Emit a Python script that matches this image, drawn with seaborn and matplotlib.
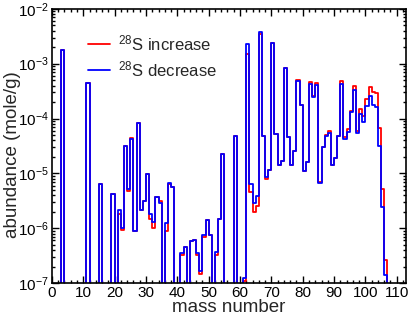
import numpy as np
import pandas as pd
import matplotlib
matplotlib.use("Agg")
import matplotlib.pyplot as plt
from matplotlib.ticker import MultipleLocator, LogLocator, NullFormatter
import seaborn as sns

# mass numbers that show up above the plot floor; anything else is zero
mass_number = [4, 12, 16, 20, 22, 23, 24, 25, 26, 27, 28, 29, 30, 31, 32, 33, 34, 35,
               37, 38, 39, 42, 43, 45, 46, 47, 48, 49, 50, 51, 53, 54, 55, 59, 62, 63,
               64, 65, 66, 67, 68, 69, 70, 71, 72, 73, 74, 75, 76, 77, 78, 79, 80, 81,
               82, 83, 84, 85, 86, 87, 88, 89, 90, 91, 92, 93, 94, 95, 96, 97, 98, 99,
               100, 101, 102, 103, 104, 105, 106, 107]

abund_decrease = [1.8e-3, 4.5e-4, 6.5e-6, 4.2e-6, 2.2e-6, 1.0e-6, 3.1e-5, 5.1e-6, 4.3e-5,
                  8.9e-7, 8.3e-5, 2.2e-6, 3.1e-6, 9.8e-6, 1.8e-6, 1.3e-6, 3.7e-6, 2.9e-6,
                  1.26e-6, 6.8e-6, 5.6e-6, 3.5e-7, 4.6e-7, 5.9e-7, 6.2e-7, 3.5e-7, 1.7e-7,
                  7.6e-7, 1.4e-6, 7.6e-7, 3.7e-7, 1.5e-6, 2.3e-5, 4.9e-5, 1.26e-7, 2.25e-3,
                  6.3e-6, 2.9e-6, 3.9e-6, 3.8e-3, 4.9e-5, 8.7e-6, 1.15e-5, 2.4e-3, 5.3e-5,
                  1.4e-5, 1.7e-5, 8.3e-4, 4.7e-5, 1.45e-5, 2.6e-5, 4.9e-4, 1.8e-4, 1.1e-5,
                  1.6e-5, 4.3e-4, 2.5e-4, 4.1e-4, 6.8e-6, 3.0e-5, 4.8e-5, 5.5e-5, 1.4e-5,
                  1.9e-5, 4.9e-5, 4.3e-4, 4.3e-5, 5.6e-5, 1.3e-4, 3.3e-4, 5.5e-5, 1.2e-4,
                  8.7e-5, 1.7e-4, 2.6e-4, 1.8e-4, 1.6e-4, 3.1e-5, 2.4e-6, 1.4e-7]

abund_increase = [1.8e-3, 4.5e-4, 6.5e-6, 4.2e-6, 1.8e-6, 0.95e-6, 3.1e-5, 4.8e-6, 4.5e-5,
                  8.9e-7, 8.3e-5, 2.2e-6, 3.1e-6, 9.8e-6, 1.5e-6, 1.0e-6, 3.7e-6, 3.1e-6,
                  8.9e-7, 6.5e-6, 5.6e-6, 3.2e-7, 4.6e-7, 5.9e-7, 6.2e-7, 3.2e-7, 1.5e-7,
                  7.0e-7, 1.4e-6, 7.6e-7, 3.3e-7, 1.5e-6, 2.3e-5, 4.9e-5, 1.1e-7, 1.5e-3,
                  4.5e-6, 2.0e-6, 2.6e-6, 3.5e-3, 4.9e-5, 8.0e-6, 1.15e-5, 2.4e-3, 5.3e-5,
                  1.4e-5, 1.7e-5, 8.3e-4, 4.7e-5, 1.45e-5, 2.6e-5, 5.1e-4, 1.8e-4, 1.1e-5,
                  1.6e-5, 4.6e-4, 2.6e-4, 4.4e-4, 7.0e-6, 3.0e-5, 5.0e-5, 6.0e-5, 1.4e-5,
                  1.9e-5, 4.9e-5, 4.9e-4, 4.7e-5, 6.5e-5, 1.35e-4, 4.0e-4, 6.0e-5, 1.5e-4,
                  1.1e-4, 2.3e-4, 3.8e-4, 3.0e-4, 2.9e-4, 6.6e-5, 5.1e-6, 2.6e-7]

label_inc = r"$^{28}$S increase"
label_dec = r"$^{28}$S decrease"

# every mass number gets a step; absent ones sit far below the 1e-7 floor
full_range = np.arange(1, 111)
below_axis = 1e-10
s_inc = pd.Series(abund_increase, index=mass_number).reindex(full_range, fill_value=below_axis)
s_dec = pd.Series(abund_decrease, index=mass_number).reindex(full_range, fill_value=below_axis)
df = pd.concat([
    pd.DataFrame({"A": full_range, "abundance": s_inc.values, "run": label_inc}),
    pd.DataFrame({"A": full_range, "abundance": s_dec.values, "run": label_dec}),
], ignore_index=True)

sns.set_theme(style="ticks")
plt.rcParams["font.family"] = ["Liberation Sans", "DejaVu Sans"]
plt.rcParams["mathtext.fontset"] = "custom"
plt.rcParams["mathtext.rm"] = "Liberation Sans"
plt.rcParams["mathtext.it"] = "Liberation Sans:italic"
plt.rcParams["path.simplify"] = False

fig = plt.figure(figsize=(4.09, 3.15), dpi=100)
ax = fig.add_axes([0.127, 0.101, 0.866, 0.871])

sns.lineplot(data=df, x="A", y="abundance", hue="run",
             palette={label_inc: "#ff0000", label_dec: "#0000ff"},
             hue_order=[label_inc, label_dec], drawstyle="steps-pre",
             estimator=None, errorbar=None, linewidth=1.3, ax=ax)

ax.set_yscale("log")
ax.set_ylim(1e-7, 1e-2)
ax.set_xlim(0, 113)

ax.xaxis.set_major_locator(MultipleLocator(10))
ax.xaxis.set_minor_locator(MultipleLocator(2))
ax.yaxis.set_major_locator(LogLocator(base=10, numticks=10))
ax.yaxis.set_minor_locator(LogLocator(base=10, subs=np.arange(2, 10), numticks=20))
ax.yaxis.set_minor_formatter(NullFormatter())
ax.tick_params(which="both", direction="in", top=True, right=True,
               labelsize=11, width=1.0, colors="black")
ax.tick_params(which="major", length=5, pad=2)
ax.tick_params(which="minor", length=2.5)
for s in ax.spines.values():
    s.set_linewidth(1.2)
    s.set_color("black")

ax.set_xlabel("mass number", fontsize=13.5, labelpad=-1)
ax.set_ylabel("abundance (mole/g)", fontsize=13.5)
ax.yaxis.set_label_coords(-0.088, 0.47)

ax.legend(loc="upper left", bbox_to_anchor=(0.06, 0.965), frameon=False,
          fontsize=12, handlelength=1.3, handletextpad=0.5, labelspacing=0.35)

fig.savefig("out.png", dpi=100)
